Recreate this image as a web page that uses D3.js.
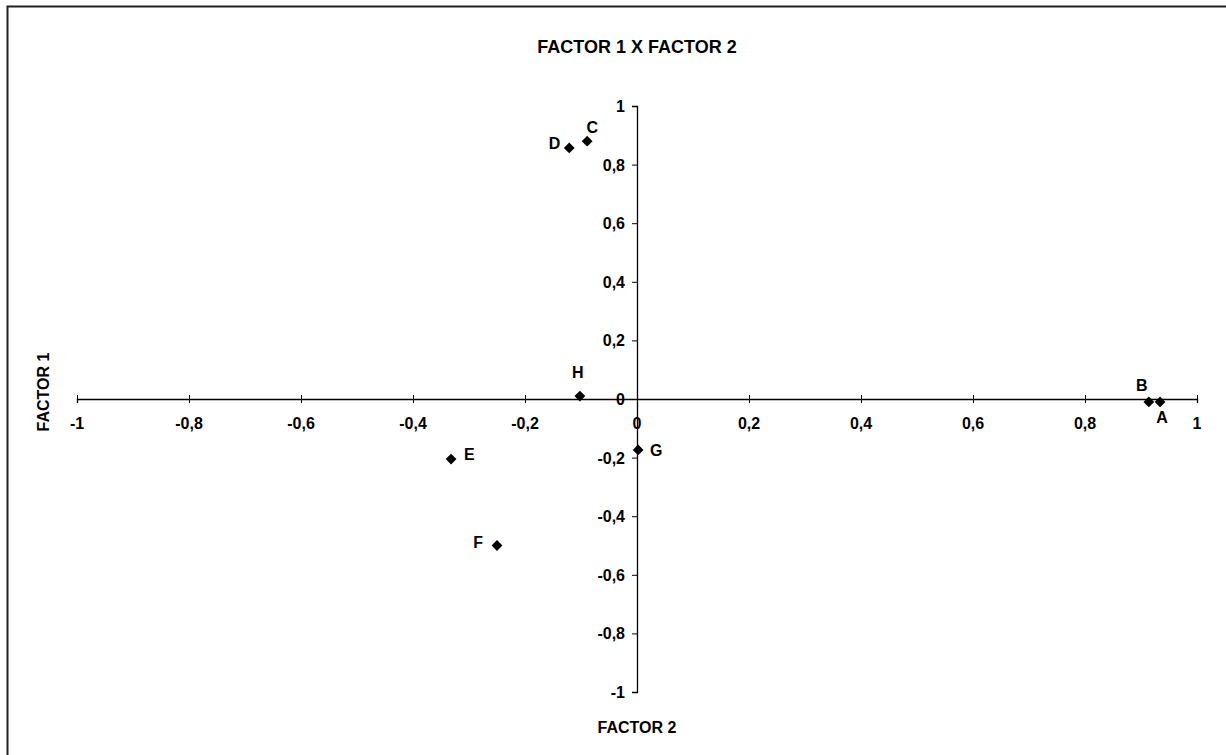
<!DOCTYPE html>
<html>
<head>
<script src="https://cdn.jsdelivr.net/npm/d3@7/dist/d3.min.js"></script>
<style>
  body { margin: 0; background: #fff; }
  text { font-family: "Liberation Sans", Arial, sans-serif; font-weight: bold; fill: #000; }
</style>
</head>
<body>
<script>

// point labels and coordinates (factor 2 on x, factor 1 on y)
var labels  = ["A", "B", "C", "D", "E", "F", "G", "H"];
var factor2 = [0.934, 0.914, -0.089, -0.121, -0.332, -0.250, 0.002, -0.102];
var factor1 = [-0.010, -0.010, 0.880, 0.857, -0.205, -0.500, -0.174, 0.010];
var tickValues = [-1, -0.8, -0.6, -0.4, -0.2, 0, 0.2, 0.4, 0.6, 0.8, 1];

// where each label sits next to its marker
var labelPlace = {
    A: { dx: 2,   dy: 15,  anchor: "middle" },
    B: { dx: -7,  dy: -17, anchor: "middle" },
    C: { dx: 5,   dy: -14, anchor: "middle" },
    D: { dx: -9,  dy: -5,  anchor: "end" },
    E: { dx: 13,  dy: -5,  anchor: "start" },
    F: { dx: -14, dy: -4,  anchor: "end" },
    G: { dx: 12,  dy: 0,   anchor: "start" },
    H: { dx: -2,  dy: -24, anchor: "middle" }
};

var width = 1226,
    height = 755;

var x = d3.scaleLinear().domain([-1, 1]).range([77, 1197]);
var y = d3.scaleLinear().domain([-1, 1]).range([692, 106]);

var fmt = (d) => d === 0 ? "0" : String(d).replace(".", ",");

var svg = d3.select("body")
            .append("svg")
            .attr("width", width)
            .attr("height", height);

// frame (top and left edges only)
svg.append("path")
   .attr("d", "M7.5,755 V6.5 H1226")
   .attr("fill", "none")
   .attr("stroke", "#222")
   .attr("stroke-width", 2);

// x axis through y = 0
var gx = svg.append("g")
            .attr("transform", "translate(0," + y(0) + ")")
            .call(d3.axisBottom(x).tickValues(tickValues).tickSize(4).tickFormat(""));
gx.select(".domain").attr("stroke", "#000").attr("stroke-width", 1.3);
gx.selectAll(".tick line").attr("y1", -4).attr("y2", 4).attr("stroke", "#000");

svg.append("g").selectAll("text")
   .data(tickValues)
   .enter()
   .append("text")
   .attr("x", (d) => x(d))
   .attr("y", y(0) + 30)
   .attr("text-anchor", "middle")
   .attr("font-size", 16)
   .text(fmt);

// y axis through x = 0
var gy = svg.append("g")
            .attr("transform", "translate(" + x(0) + ",0)")
            .call(d3.axisLeft(y).tickValues(tickValues).tickSize(5).tickSizeOuter(5).tickFormat(""));
gy.select(".domain").attr("stroke", "#000").attr("stroke-width", 1.3);
gy.selectAll(".tick line").attr("stroke", "#000");

svg.append("g").selectAll("text")
   .data(tickValues)
   .enter()
   .append("text")
   .attr("x", x(0) - 12)
   .attr("y", (d) => y(d) + 6)
   .attr("text-anchor", "end")
   .attr("font-size", 16)
   .text(fmt);

// markers: square turned 45 degrees
var pts = labels.map((l, i) => ({ label: l, fx: factor2[i], fy: factor1[i] }));

svg.selectAll("path.pt")
   .data(pts)
   .enter()
   .append("path")
   .attr("class", "pt")
   .attr("d", d3.symbol().type(d3.symbolSquare).size(58))
   .attr("transform", (d) => "translate(" + x(d.fx) + "," + y(d.fy) + ") rotate(45)")
   .attr("fill", "#000");

svg.selectAll("text.lbl")
   .data(pts)
   .enter()
   .append("text")
   .attr("class", "lbl")
   .attr("x", (d) => x(d.fx) + labelPlace[d.label].dx)
   .attr("y", (d) => y(d.fy) + labelPlace[d.label].dy + 6)
   .attr("text-anchor", (d) => labelPlace[d.label].anchor)
   .attr("font-size", 16)
   .text((d) => d.label);

// titles
svg.append("text")
   .attr("x", 637)
   .attr("y", 53)
   .attr("text-anchor", "middle")
   .attr("font-size", 18)
   .text("FACTOR 1 X FACTOR 2");

svg.append("text")
   .attr("x", 637)
   .attr("y", 733)
   .attr("text-anchor", "middle")
   .attr("font-size", 16)
   .text("FACTOR 2");

svg.append("text")
   .attr("transform", "translate(49,392) rotate(-90)")
   .attr("text-anchor", "middle")
   .attr("font-size", 16)
   .text("FACTOR 1");

</script>
</body>
</html>
